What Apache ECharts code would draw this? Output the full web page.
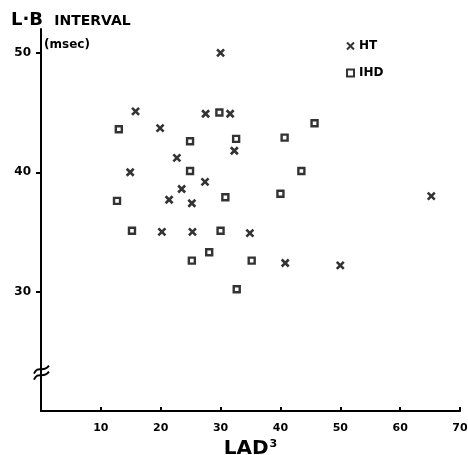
<!DOCTYPE html>
<html>
<head>
<meta charset="utf-8">
<script src="https://cdn.jsdelivr.net/npm/echarts@6/dist/echarts.min.js"></script>
<style>html,body{margin:0;padding:0;background:#fff}#c{width:468px;height:455px}</style>
</head>
<body>
<div id="c"></div>
<script>
// LAD^3 (x) and L-B interval in msec (y)
const htX = [30.0, 15.8, 27.5, 31.6, 19.9, 22.7, 32.3, 14.9, 27.4, 23.5, 21.4, 25.2, 20.2, 25.3, 34.9, 40.8, 50.0, 65.2];
const htY = [50.0, 45.1, 44.9, 44.9, 43.7, 41.2, 41.8, 40.0, 39.2, 38.6, 37.7, 37.4, 35.0, 35.0, 34.9, 32.4, 32.2, 38.0];
const ihdX = [29.8, 13.0, 24.9, 32.6, 40.7, 45.7, 24.9, 43.5, 30.8, 40.0, 12.7, 15.2, 30.0, 28.1, 25.2, 35.2, 32.7];
const ihdY = [45.0, 43.6, 42.6, 42.8, 42.9, 44.1, 40.1, 40.1, 37.9, 38.2, 37.6, 35.1, 35.1, 33.3, 32.6, 32.6, 30.2];
const xTicks = [10, 20, 30, 40, 50, 60, 70];
const yTicks = [30, 40, 50];
const seriesNames = ['HT', 'IHD'];

const FONT = '"DejaVu Sans", "Liberation Sans", Arial, sans-serif';
const INK = '#000';
const pair = (xs, ys) => xs.map((x, i) => [x, ys[i]]);

const chart = echarts.init(document.getElementById('c'), null, {renderer: 'canvas'});
const option = {
  backgroundColor: '#fff',
  animation: false,
  textStyle: {fontFamily: FONT},
  title: {
    text: '{a|L·B} {b|INTERVAL}',
    left: 6, top: 6,
    textStyle: {
      rich: {
        a: {fontFamily: FONT, fontSize: 18, fontWeight: 'bold', color: INK},
        b: {fontFamily: FONT, fontSize: 14, fontWeight: 'bold', color: INK, padding: [3, 0, 0, 5]}
      }
    }
  },
  legend: {
    orient: 'vertical',
    left: 341, top: 35,
    itemWidth: 7, itemHeight: 7, itemGap: 15,
    textStyle: {fontFamily: FONT, fontSize: 12, fontWeight: 'bold', color: INK, padding: [0, 0, 0, 0]},
    data: seriesNames
  },
  grid: {left: 41, right: 8, top: 29, bottom: 44, outerBoundsMode: 'none', containLabel: false},
  xAxis: {
    type: 'value', min: 0, max: 70, interval: 10,
    name: 'LAD{s|3}', nameLocation: 'middle', nameGap: 21,
    nameTextStyle: {
      fontFamily: FONT, fontSize: 20, fontWeight: 'bold', color: INK,
      rich: {s: {fontFamily: FONT, fontSize: 11, fontWeight: 'bold', color: INK, verticalAlign: 'top', padding: [0, 0, 8, 1]}}
    },
    axisLine: {show: true, lineStyle: {color: INK, width: 2}},
    axisTick: {show: true, inside: true, length: 4, customValues: xTicks, lineStyle: {color: INK, width: 2}},
    axisLabel: {customValues: xTicks, margin: 12, fontFamily: FONT, fontSize: 11, fontWeight: 'bold', color: INK},
    splitLine: {show: false}
  },
  yAxis: {
    type: 'value', min: 20, max: 52, interval: 10,
    axisLine: {show: true, lineStyle: {color: INK, width: 2}},
    axisTick: {show: true, length: 5, customValues: yTicks, lineStyle: {color: INK, width: 2}},
    axisLabel: {customValues: yTicks, margin: 10, fontFamily: FONT, fontSize: 12, fontWeight: 'bold', color: INK},
    splitLine: {show: false}
  },
  series: [
    {
      name: seriesNames[0], type: 'scatter',
      symbol: 'path://M0,0L10,10M10,0L0,10', symbolSize: 7,
      itemStyle: {color: 'rgba(0,0,0,0)', borderColor: INK, borderWidth: 2.6},
      data: pair(htX, htY)
    },
    {
      name: seriesNames[1], type: 'scatter',
      symbol: 'rect', symbolSize: 6,
      itemStyle: {color: '#fff', borderColor: INK, borderWidth: 2.4},
      data: pair(ihdX, ihdY)
    }
  ]
};
chart.setOption(option);

// decorations: "(msec)" unit label and the axis break mark
const bx = chart.convertToPixel({xAxisIndex: 0}, 0);
const by = chart.convertToPixel({yAxisIndex: 0}, 23.3);
const wave = (dy) => ({
  type: 'bezierCurve',
  shape: {x1: bx - 7, y1: by + 5 + dy, x2: bx + 8, y2: by - 3 + dy, cpx1: bx - 3, cpy1: by - 4 + dy, cpx2: bx + 2, cpy2: by + 5 + dy},
  style: {stroke: INK, lineWidth: 2, fill: null}
});
chart.setOption({
  graphic: [
    {type: 'text', left: 44, top: 39, style: {text: '(msec)', font: 'bold 12px ' + FONT, fill: INK}},
    wave(-3),
    wave(3)
  ]
});
</script>
</body>
</html>
